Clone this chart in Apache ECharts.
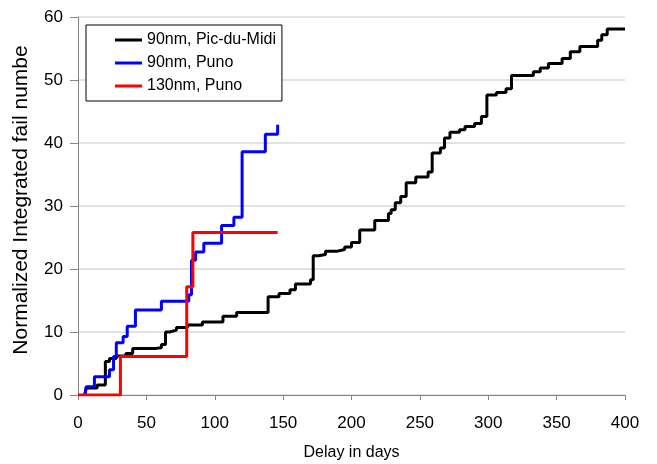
<!DOCTYPE html>
<html>
<head>
<meta charset="utf-8">
<script src="https://cdn.jsdelivr.net/npm/echarts@6/dist/echarts.min.js"></script>
<style>
  html, body { margin: 0; padding: 0; background: #fff; }
  #main { width: 657px; height: 464px; }
</style>
</head>
<body>
<div id="main"></div>
<script>
// [delay in days, integrated fails] - each value holds until the next point
var picDuMidi90 = [
  [5, 0], [6, 1.1], [14, 1.6], [20, 5.3], [23, 5.8], [28, 6.2], [35, 6.6], [40, 7.4],
  [57, 7.5], [61, 8.0], [64, 10], [67, 10.3], [72, 10.7], [80, 11.1], [91, 11.6],
  [106, 12.5], [116, 13.1], [139, 15.6], [147, 16.1], [155, 16.7], [159, 17.6],
  [170, 18.3], [172, 22.1], [176, 22.3], [181, 22.8], [189, 23.1], [195, 23.5],
  [200, 24.2], [206, 26.2], [217, 27.7], [227, 28.8], [229, 29.4], [232, 30.5],
  [236, 31.5], [240, 33.7], [247, 34.6], [256, 35.4], [259, 38.4], [265, 39.2],
  [268, 40.8], [272, 41.7], [279, 42.1], [283, 42.6], [290, 43.1], [295, 44.2],
  [299, 47.6], [306, 48], [313, 48.6], [317, 50.7], [333, 51.3], [338, 51.9],
  [344, 52.6], [354, 53.4], [360, 54.5], [367, 55.3], [380, 56.3], [383, 57.2],
  [387, 58.1], [400, 58.1]
];
var puno90 = [
  [5, 0], [6, 1.3], [12, 2.9], [23, 4.0], [26, 6.1], [28, 8.3], [33, 9.3], [36, 10.9],
  [42, 13.5], [61, 14.9], [81, 15.9], [83, 21.4], [86, 22.7], [92, 24.1], [105, 26.9],
  [114, 28.2], [120, 38.6], [137, 41.4], [146, 42.9]
];
var puno130 = [
  [0, 0], [31, 6.1], [79.5, 17.2], [84, 25.8], [146, 25.8]
];
var seriesNames = ['90nm, Pic-du-Midi', '90nm, Puno', '130nm, Puno'];
var seriesColors = ['#000000', '#0000ff', '#ff0000'];

var font = 'Liberation Sans, Arial, sans-serif';
var chart = echarts.init(document.getElementById('main'));

chart.setOption({
    backgroundColor: '#ffffff',
    animation: false,
    grid: { left: 78, right: 32, top: 17, bottom: 69, outerBoundsMode: 'none', containLabel: false },
    legend: {
        orient: 'vertical',
        left: 86,
        top: 25,
        padding: [7, 6, 7, 29],
        itemGap: 7,
        itemWidth: 27,
        itemHeight: 3,
        icon: 'rect',
        borderColor: '#000',
        borderWidth: 1,
        backgroundColor: '#fff',
        textStyle: { fontFamily: font, fontSize: 16, color: '#000', lineHeight: 16, padding: [0, 0, 0, 0] },
        data: seriesNames
    },
    xAxis: {
        type: 'value',
        min: 0,
        max: 400,
        interval: 50,
        name: 'Delay in days',
        nameLocation: 'middle',
        nameGap: 50,
        nameTextStyle: { fontFamily: font, fontSize: 16, color: '#000' },
        axisLine: { lineStyle: { color: '#868686', width: 1 } },
        axisTick: { show: true, inside: false, length: 5, lineStyle: { color: '#868686' } },
        axisLabel: { fontFamily: font, fontSize: 17, color: '#000', margin: 20 },
        splitLine: { show: false }
    },
    yAxis: {
        type: 'value',
        min: 0,
        max: 60,
        interval: 10,
        name: 'Normalized Integrated fail numbe',
        nameLocation: 'middle',
        nameGap: 46,
        nameTextStyle: { fontFamily: font, fontSize: 21, color: '#000', padding: [0, 0, 0, 12] },
        axisLine: { show: true, lineStyle: { color: '#868686', width: 1 } },
        axisTick: { show: true, inside: false, length: 8, lineStyle: { color: '#868686' } },
        axisLabel: { fontFamily: font, fontSize: 17, color: '#000', margin: 15 },
        splitLine: { show: true, lineStyle: { color: '#d9d9d9', width: 1.5 } }
    },
    series: [
        {
            name: seriesNames[0],
            type: 'line',
            step: 'end',
            symbol: 'none',
            color: seriesColors[0],
            lineStyle: { width: 3, color: seriesColors[0] },
            data: picDuMidi90
        },
        {
            name: seriesNames[1],
            type: 'line',
            step: 'end',
            symbol: 'none',
            color: seriesColors[1],
            lineStyle: { width: 3, color: seriesColors[1] },
            data: puno90
        },
        {
            name: seriesNames[2],
            type: 'line',
            step: 'end',
            symbol: 'none',
            color: seriesColors[2],
            lineStyle: { width: 3, color: seriesColors[2] },
            data: puno130
        }
    ]
});
</script>
</body>
</html>
